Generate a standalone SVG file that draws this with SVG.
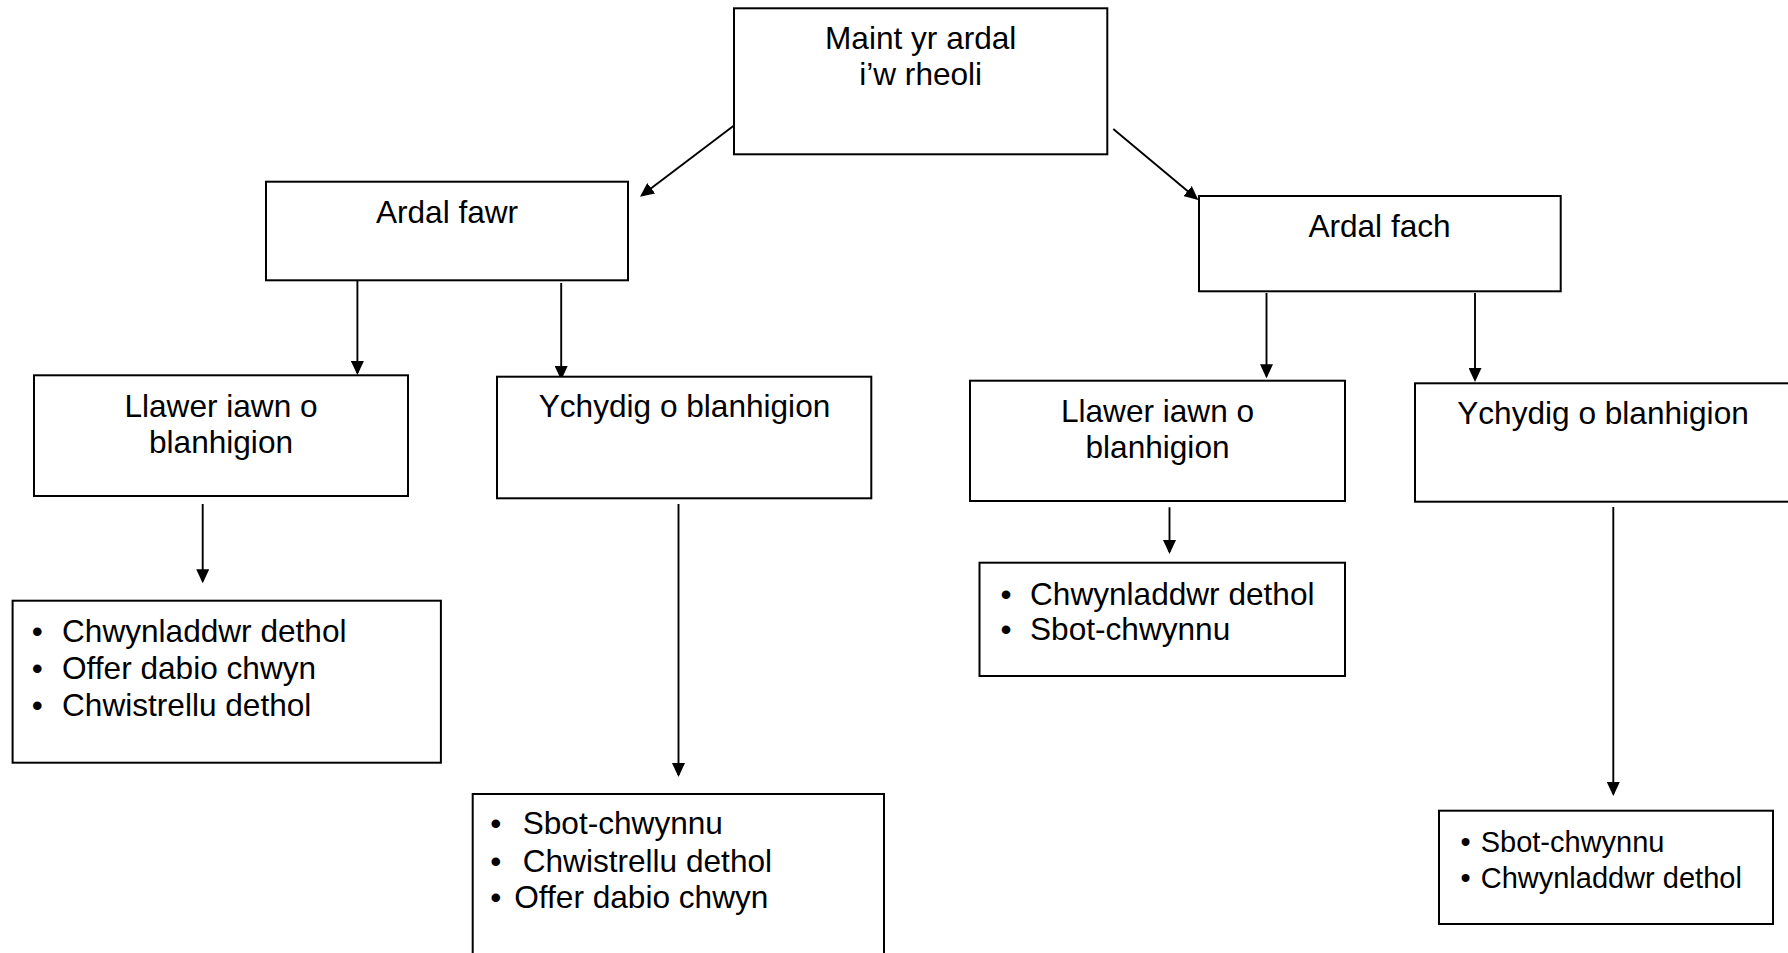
<svg xmlns="http://www.w3.org/2000/svg" width="1788" height="953" viewBox="0 0 1788 953">
<style>
  .box { fill: #ffffff; stroke: #000000; stroke-width: 2; }
  .t { font-family: "Liberation Sans", Arial, sans-serif; font-size: 31.6px; fill: #000000; }
  .c { text-anchor: middle; }
  .s { font-size: 29px; }
  .conn line { stroke: #000000; stroke-width: 1.9; fill: none; marker-end: url(#ah); }
</style>
<defs>
  <marker id="ah" markerUnits="userSpaceOnUse" markerWidth="14" markerHeight="13" refX="12" refY="6.5" orient="auto">
    <path d="M0,0 L14,6.5 L0,13 Z" fill="#000000"/>
  </marker>
</defs>
<rect width="1788" height="953" fill="#ffffff"/>

<g id="connectors" class="conn">
  <line x1="734" y1="125.5" x2="641.6" y2="195.5"/>
  <line x1="1113.3" y1="129" x2="1196.8" y2="198.7"/>
  <line x1="357.4" y1="281" x2="357.4" y2="373"/>
  <line x1="561.2" y1="283" x2="561.2" y2="378"/>
  <line x1="1266.5" y1="293" x2="1266.5" y2="376.3"/>
  <line x1="1475" y1="293" x2="1475" y2="380"/>
  <line x1="202.7" y1="504" x2="202.7" y2="581.3"/>
  <line x1="678.5" y1="504" x2="678.5" y2="775"/>
  <line x1="1169.5" y1="507.3" x2="1169.5" y2="552"/>
  <line x1="1613.3" y1="507" x2="1613.3" y2="794"/>
</g>

<g id="root">
  <rect class="box" x="734" y="8.3" width="373.3" height="146"/>
  <text class="t c" x="920.7" y="49.3">Maint yr ardal</text>
  <text class="t c" x="920.7" y="85">i’w rheoli</text>
</g>

<g id="ardal-fawr">
  <rect class="box" x="266" y="181.7" width="362" height="98.6"/>
  <text class="t c" x="447" y="222.7">Ardal fawr</text>
</g>

<g id="ardal-fach">
  <rect class="box" x="1199" y="196" width="361.7" height="95.3"/>
  <text class="t c" x="1379.5" y="236.7">Ardal fach</text>
</g>

<g id="llawer-fawr">
  <rect class="box" x="34" y="375.3" width="374" height="120.7"/>
  <text class="t c" x="221" y="417.3">Llawer iawn o</text>
  <text class="t c" x="221" y="453.3">blanhigion</text>
</g>

<g id="ychydig-fawr">
  <rect class="box" x="497" y="376.7" width="374.3" height="121.6"/>
  <text class="t c" x="684.5" y="417">Ychydig o blanhigion</text>
</g>

<g id="llawer-fach">
  <rect class="box" x="970" y="380.7" width="375" height="120.3"/>
  <text class="t c" x="1157.5" y="421.7">Llawer iawn o</text>
  <text class="t c" x="1157.5" y="458.3">blanhigion</text>
</g>

<g id="ychydig-fach">
  <rect class="box" x="1415" y="383.3" width="376" height="118.4"/>
  <text class="t c" x="1603" y="424">Ychydig o blanhigion</text>
</g>

<g id="dulliau-llawer-fawr">
  <rect class="box" x="12.6" y="600.7" width="428.3" height="162"/>
  <text class="t" x="31.8" y="642.3">•</text>
  <text class="t" x="62" y="642.3">Chwynladdwr dethol</text>
  <text class="t" x="31.8" y="679">•</text>
  <text class="t" x="62" y="679">Offer dabio chwyn</text>
  <text class="t" x="31.8" y="715.7">•</text>
  <text class="t" x="62" y="715.7">Chwistrellu dethol</text>
</g>

<g id="dulliau-ychydig-fawr">
  <rect class="box" x="472.7" y="794" width="411.3" height="170"/>
  <text class="t" x="490.2" y="834.3">•</text>
  <text class="t" x="522.7" y="834.3">Sbot-chwynnu</text>
  <text class="t" x="490.2" y="871.7">•</text>
  <text class="t" x="522.7" y="871.7">Chwistrellu dethol</text>
  <text class="t" x="490.2" y="908.3">•</text>
  <text class="t" x="514.3" y="908.3">Offer dabio chwyn</text>
</g>

<g id="dulliau-llawer-fach">
  <rect class="box" x="979.5" y="562.7" width="365.5" height="113.3"/>
  <text class="t" x="1000.5" y="605">•</text>
  <text class="t" x="1030" y="605">Chwynladdwr dethol</text>
  <text class="t" x="1000.5" y="640">•</text>
  <text class="t" x="1030" y="640">Sbot-chwynnu</text>
</g>

<g id="dulliau-ychydig-fach">
  <rect class="box" x="1439" y="810.7" width="334" height="113.3"/>
  <text class="t s" x="1460.6" y="851.7">•</text>
  <text class="t s" x="1480.7" y="851.7">Sbot-chwynnu</text>
  <text class="t s" x="1460.6" y="888.3">•</text>
  <text class="t s" x="1480.7" y="888.3">Chwynladdwr dethol</text>
</g>
</svg>
